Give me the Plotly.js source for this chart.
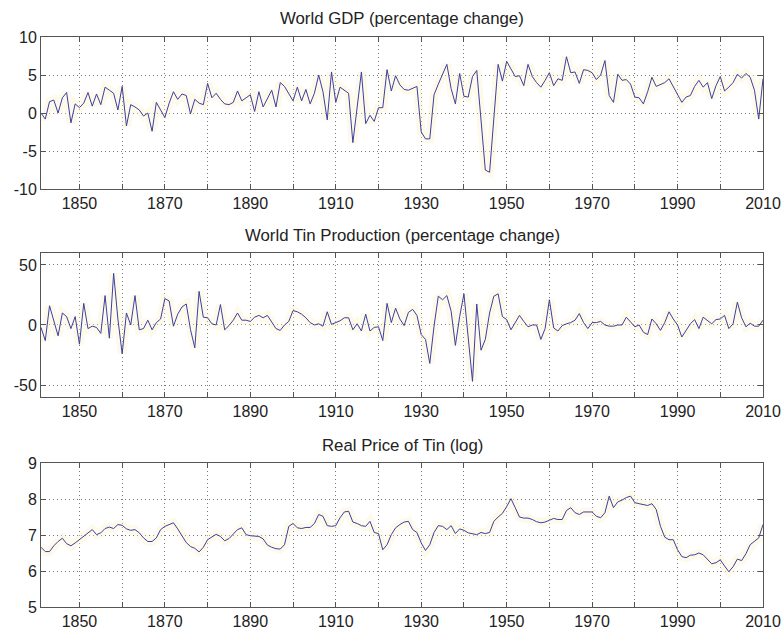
<!DOCTYPE html>
<html>
<head>
<meta charset="utf-8">
<script src="https://cdn.plot.ly/plotly-3.0.1.min.js"></script>
<style>html,body{margin:0;padding:0;background:#fff;}#chart{width:784px;height:631px;}</style>
</head>
<body>
<div id="chart"></div>
<script>
const startYear = 1841;
const endYear = 2010;

const gdpChange = [
  0.0, -0.8, 1.5, 1.7, 0.0, 2.0, 2.7, -1.3, 1.2,
  0.7, 1.3, 2.7, 0.9, 2.5, 1.1, 3.4, 3.0, 2.6, 0.4,
  3.5, -1.7, 1.1, 0.8, 0.4, -0.4, 0.0, -2.4, 1.4, 0.4,
  -0.6, 1.3, 2.8, 1.8, 2.5, 2.3, -0.1, 1.8, 1.3, 1.1,
  3.9, 2.0, 2.6, 1.8, 1.2, 1.1, 1.4, 2.9, 1.6, 2.0,
  2.4, 0.2, 2.8, 0.8, 1.9, 3.0, 0.8, 4.0, 3.5, 2.6,
  1.6, 3.4, 1.6, 3.1, 1.2, 2.6, 5.0, 2.8, -0.9, 5.4,
  1.4, 3.4, 3.0, 2.6, -3.9, 0.5, 5.4, -1.4, -0.3, -1.1,
  0.7, 0.7, 5.7, 2.9, 4.9, 3.7, 3.1, 3.0, 3.2, 3.5,
  -2.5, -3.4, -3.4, 2.4, 3.8, 5.0, 6.4, 3.2, 1.2, 5.2,
  2.2, 2.1, 4.8, 5.6, -1.0, -7.5, -7.8, -0.5, 6.4, 4.2,
  6.8, 5.8, 4.8, 4.9, 3.6, 6.4, 4.8, 4.0, 3.4, 4.3,
  5.3, 3.6, 4.5, 4.3, 7.4, 5.3, 5.4, 3.9, 5.7, 5.6,
  5.3, 4.4, 5.0, 6.9, 2.3, 1.4, 5.1, 4.3, 4.4, 3.8,
  2.1, 2.0, 1.2, 2.8, 4.7, 3.5, 3.8, 4.0, 4.5, 3.5,
  2.5, 1.4, 2.1, 2.3, 3.5, 4.3, 3.4, 4.0, 1.9, 3.6,
  4.8, 2.9, 3.4, 4.0, 5.1, 4.6, 5.2, 4.7, 3.0, -0.8,
  4.5
];

const tinChange = [
  -2, -13, 16, 3, -9, 10, 7, -3, 7,
  -16, 18, -3, -1, -2, -7, 24.5, -11, 43, 5,
  -24, 10, 0, 24.5, -4, -3, 4, -4, 2, 5,
  22, 20, -1, 9, 15, 17.5, -4, -19, 28, 6.5,
  6, 1, 0, 17, -4, -0.5, 4, 10, 4, 4,
  3, 6.5, 8, 6, 8, 2, -3, -4.5, 0, 3,
  12, 11, 9, 6, 2, 0, 1, -1, 11, 0.5,
  2, 3.5, 6, 6, -4, 1, -5, 9, -5, -2,
  -1.5, -13, 18, 2, 14, 5, -0.5, 10.5, 13, 8,
  -8, -12, -32, -1, 24, 21, 24.5, 11.5, -17, 7,
  26, -9, -47, 17.5, -21, -12, 10, 24, 26, 7,
  4.5, -4, 2, 8, 3, -1.5, 0, 0, -12, -3,
  21, -2.5, -5, -0.5, 1, 2, 4, 9.5, 2, -3,
  2, 2, 3, 0, -1, -1, 0, 0, 6.5, 2,
  -1.5, 0, -6, -8, 5, 1, -4.5, 2, 11, 5,
  0, -10, -4, 1, 4.5, -3, 6.5, 4, 1, 4.5,
  5, 8, -3, 1, 19, 6, -1.5, 1.5, -1, -1,
  4
];

const tinPriceLog = [
  6.66, 6.54, 6.54, 6.70, 6.82, 6.91, 6.76, 6.70, 6.78,
  6.87, 6.98, 7.06, 7.15, 7.01, 7.06, 7.18, 7.22, 7.18, 7.29,
  7.27, 7.17, 7.13, 7.15, 7.06, 6.92, 6.82, 6.82, 6.92, 7.15,
  7.24, 7.29, 7.34, 7.17, 6.98, 6.79, 6.68, 6.63, 6.53, 6.66,
  6.87, 6.94, 7.02, 6.96, 6.84, 6.90, 7.03, 7.15, 7.20, 7.01,
  6.98, 6.98, 6.96, 6.89, 6.72, 6.66, 6.62, 6.61, 6.73, 7.24,
  7.32, 7.20, 7.18, 7.21, 7.21, 7.32, 7.57, 7.52, 7.26, 7.24,
  7.26, 7.48, 7.64, 7.66, 7.36, 7.32, 7.26, 7.24, 7.38, 7.07,
  7.04, 6.59, 6.73, 7.01, 7.20, 7.29, 7.36, 7.38, 7.15, 7.07,
  6.78, 6.57, 6.73, 7.07, 7.26, 7.24, 7.15, 7.26, 7.04, 7.17,
  7.13, 7.06, 7.04, 7.01, 7.07, 7.04, 7.07, 7.38, 7.50, 7.60,
  7.79, 8.01, 7.76, 7.50, 7.47, 7.47, 7.43, 7.37, 7.34, 7.36,
  7.41, 7.46, 7.43, 7.43, 7.68, 7.76, 7.62, 7.57, 7.64, 7.64,
  7.64, 7.52, 7.48, 7.62, 8.08, 7.76, 7.92, 7.97, 8.04, 8.08,
  7.90, 7.87, 7.85, 7.82, 7.87, 7.71, 7.24, 6.94, 6.87, 6.87,
  6.59, 6.40, 6.37, 6.44, 6.45, 6.50, 6.45, 6.33, 6.20, 6.23,
  6.31, 6.14, 5.98, 6.12, 6.33, 6.29, 6.48, 6.73, 6.82, 6.92,
  7.29
];

const panelTitles = [
  "World GDP (percentage change)",
  "World Tin Production (percentage change)",
  "Real Price of Tin (log)"
];

const xTickVals = [1850, 1860, 1870, 1880, 1890, 1900, 1910, 1920, 1930, 1940, 1950, 1960, 1970, 1980, 1990, 2000, 2010];
const xTickText = ["1850", "", "1870", "", "1890", "", "1910", "", "1930", "", "1950", "", "1970", "", "1990", "", "2010"];

const gdpTicks = [-10, -5, 0, 5, 10];
const tinTicks = [-50, 0, 50];
const priceTicks = [5, 6, 7, 8, 9];

const years = [];
for (let y = startYear; y <= endYear; y++) years.push(y);

const lineColor = "#3b3fa3";
const haloColor = "rgba(252,243,205,0.4)";

function halo(yv, xa, ya) {
  return {x: years, y: yv, xaxis: xa, yaxis: ya, type: "scatter", mode: "lines",
    line: {color: haloColor, width: 9}, hoverinfo: "skip", showlegend: false};
}
function main(yv, xa, ya) {
  return {x: years, y: yv, xaxis: xa, yaxis: ya, type: "scatter", mode: "lines",
    line: {color: lineColor, width: 1}, showlegend: false};
}

const data = [
  halo(gdpChange, "x", "y"), main(gdpChange, "x", "y"),
  halo(tinChange, "x2", "y2"), main(tinChange, "x2", "y2"),
  halo(tinPriceLog, "x3", "y3"), main(tinPriceLog, "x3", "y3")
];

const fontFam = "Liberation Sans, Arial, sans-serif";

const axisCommon = {
  showline: true, linecolor: "#555", linewidth: 1, mirror: "ticks",
  ticks: "inside", ticklen: 5, tickcolor: "#555", tickwidth: 1,
  showgrid: true, gridcolor: "#777", griddash: "1px,3px", gridwidth: 1,
  zeroline: false, tickfont: {family: fontFam, size: 16, color: "#222"}
};

function xa(anchor) {
  return Object.assign({}, axisCommon, {
    anchor: anchor, range: [startYear, endYear], tickmode: "array",
    tickvals: xTickVals, ticktext: xTickText
  });
}
function ya(anchor, domain, range, ticks) {
  return Object.assign({}, axisCommon, {
    anchor: anchor, domain: domain, range: range, tickmode: "array",
    tickvals: ticks, ticktext: ticks.map(String)
  });
}

const titleFont = {family: fontFam, size: 16.8, color: "#222"};

const layout = {
  width: 784, height: 631,
  margin: {l: 41, r: 21, t: 37, b: 24, pad: 0},
  paper_bgcolor: "#fff", plot_bgcolor: "#fff",
  showlegend: false,
  xaxis: xa("y"),
  xaxis2: xa("y2"),
  xaxis3: xa("y3"),
  yaxis: ya("x", [0.7333, 1.0], [-10, 10], gdpTicks),
  yaxis2: ya("x2", [0.3684, 0.6211], [-60, 60], tinTicks),
  yaxis3: ya("x3", [0.0, 0.2526], [5, 9], priceTicks),
  annotations: [
    {text: panelTitles[0], xref: "paper", yref: "paper", x: 0.5, y: 1.0316, xanchor: "center", yanchor: "middle", showarrow: false, font: titleFont},
    {text: panelTitles[1], xref: "paper", yref: "paper", x: 0.5, y: 0.6526, xanchor: "center", yanchor: "middle", showarrow: false, font: titleFont},
    {text: panelTitles[2], xref: "paper", yref: "paper", x: 0.5, y: 0.2842, xanchor: "center", yanchor: "middle", showarrow: false, font: titleFont}
  ]
};

Plotly.newPlot("chart", data, layout, {staticPlot: true, displayModeBar: false});
</script>
</body>
</html>
